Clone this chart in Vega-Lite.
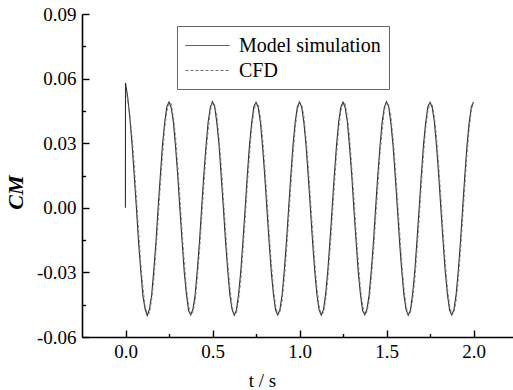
{
  "$schema": "https://vega.github.io/schema/vega-lite/v6.json",
  "width": 431,
  "height": 323,
  "autosize": {"type": "none"},
  "padding": {"left": 82, "top": 14, "right": 0, "bottom": 53},
  "background": "white",
  "config": {
    "view": {"stroke": null},
    "axis": {
      "labelFont": "Liberation Serif",
      "labelFontSize": 19,
      "labelColor": "#000",
      "titleFont": "Liberation Serif",
      "titleFontSize": 19,
      "titleFontWeight": "normal",
      "titleColor": "#000",
      "domainColor": "#000",
      "domainWidth": 1.6,
      "tickColor": "#000",
      "tickWidth": 1.4,
      "grid": false
    },
    "legend": {
      "labelFont": "Liberation Serif",
      "labelFontSize": 20,
      "labelColor": "#000"
    }
  },
  "data": {
    "values": [
      {"t":-0.0005,"m":0},
      {"t":0,"m":0.058},
      {"t":0.004,"c":0.0545},
      {"t":0.0125,"m":0.0515,"c":0.05},
      {"t":0.025,"m":0.0418,"c":0.0428},
      {"t":0.0375,"m":0.0296,"c":0.0331},
      {"t":0.05,"m":0.0152,"c":0.0203},
      {"t":0.0625,"m":0.0002,"c":0.0046},
      {"t":0.075,"m":-0.016,"c":-0.0101},
      {"t":0.0875,"m":-0.029,"c":-0.0255},
      {"t":0.1,"m":-0.0408,"c":-0.0366},
      {"t":0.1125,"m":-0.047,"c":-0.0459},
      {"t":0.125,"m":-0.05,"c":-0.0493},
      {"t":0.1375,"m":-0.0471,"c":-0.049},
      {"t":0.15,"m":-0.0408,"c":-0.0428},
      {"t":0.1625,"m":-0.029,"c":-0.0338},
      {"t":0.175,"m":-0.016,"c":-0.02},
      {"t":0.1875,"m":0.0001,"c":-0.0058},
      {"t":0.2,"m":0.0146,"c":0.0104},
      {"t":0.2125,"m":0.0292,"c":0.0241},
      {"t":0.225,"m":0.0394,"c":0.0369},
      {"t":0.2375,"m":0.047,"c":0.0445},
      {"t":0.25,"m":0.0491,"c":0.0488},
      {"t":0.2625,"m":0.0466,"c":0.0484},
      {"t":0.275,"m":0.04,"c":0.0422},
      {"t":0.2875,"m":0.0285,"c":0.0332},
      {"t":0.3,"m":0.0153,"c":0.0195},
      {"t":0.3125,"m":-0.0006,"c":0.0052},
      {"t":0.325,"m":-0.0152,"c":-0.0109},
      {"t":0.3375,"m":-0.0297,"c":-0.0248},
      {"t":0.35,"m":-0.04,"c":-0.0375},
      {"t":0.3625,"m":-0.0477,"c":-0.0452},
      {"t":0.375,"m":-0.0497,"c":-0.0498},
      {"t":0.3875,"m":-0.0471,"c":-0.0484},
      {"t":0.4,"m":-0.0406,"c":-0.0435},
      {"t":0.4125,"m":-0.0291,"c":-0.033},
      {"t":0.425,"m":-0.0159,"c":-0.0207},
      {"t":0.4375,"m":0,"c":-0.0051},
      {"t":0.45,"m":0.0153,"c":0.0097},
      {"t":0.4625,"m":0.0285,"c":0.0248},
      {"t":0.475,"m":0.0399,"c":0.0361},
      {"t":0.4875,"m":0.0466,"c":0.0452},
      {"t":0.5,"m":0.0493,"c":0.0491},
      {"t":0.5125,"m":0.047,"c":0.0478},
      {"t":0.525,"m":0.0394,"c":0.0429},
      {"t":0.5375,"m":0.0291,"c":0.0325},
      {"t":0.55,"m":0.0147,"c":0.0201},
      {"t":0.5625,"m":-0.0001,"c":0.0045},
      {"t":0.575,"m":-0.0158,"c":-0.0103},
      {"t":0.5875,"m":-0.0291,"c":-0.0254},
      {"t":0.6,"m":-0.0405,"c":-0.0368},
      {"t":0.6125,"m":-0.0472,"c":-0.0458},
      {"t":0.625,"m":-0.0499,"c":-0.0494},
      {"t":0.6375,"m":-0.0476,"c":-0.0489},
      {"t":0.65,"m":-0.04,"c":-0.0429},
      {"t":0.6625,"m":-0.0296,"c":-0.0337},
      {"t":0.675,"m":-0.0153,"c":-0.0201},
      {"t":0.6875,"m":-0.0005,"c":-0.0057},
      {"t":0.7,"m":0.0151,"c":0.0103},
      {"t":0.7125,"m":0.0291,"c":0.0242},
      {"t":0.725,"m":0.0395,"c":0.0368},
      {"t":0.7375,"m":0.0469,"c":0.0446},
      {"t":0.75,"m":0.049,"c":0.0489},
      {"t":0.7625,"m":0.0467,"c":0.0483},
      {"t":0.775,"m":0.0399,"c":0.0424},
      {"t":0.7875,"m":0.0286,"c":0.033},
      {"t":0.8,"m":0.0152,"c":0.0196},
      {"t":0.8125,"m":-0.0004,"c":0.005},
      {"t":0.825,"m":-0.0155,"c":-0.0108},
      {"t":0.8375,"m":-0.0295,"c":-0.0249},
      {"t":0.85,"m":-0.0401,"c":-0.0373},
      {"t":0.8625,"m":-0.0475,"c":-0.0453},
      {"t":0.875,"m":-0.0498,"c":-0.0497},
      {"t":0.8875,"m":-0.0473,"c":-0.0486},
      {"t":0.9,"m":-0.0404,"c":-0.0432},
      {"t":0.9125,"m":-0.0293,"c":-0.0332},
      {"t":0.925,"m":-0.0157,"c":-0.0205},
      {"t":0.9375,"m":-0.0002,"c":-0.0053},
      {"t":0.95,"m":0.0149,"c":0.0099},
      {"t":0.9625,"m":0.0289,"c":0.0246},
      {"t":0.975,"m":0.0396,"c":0.0364},
      {"t":0.9875,"m":0.0468,"c":0.045},
      {"t":1.0,"m":0.0492,"c":0.049},
      {"t":1.0125,"m":0.0468,"c":0.048},
      {"t":1.025,"m":0.0397,"c":0.0427},
      {"t":1.0375,"m":0.029,"c":0.0327},
      {"t":1.05,"m":0.0149,"c":0.0199},
      {"t":1.0625,"m":-0.0002,"c":0.0047},
      {"t":1.075,"m":-0.0157,"c":-0.0105},
      {"t":1.0875,"m":-0.0293,"c":-0.0252},
      {"t":1.1,"m":-0.0403,"c":-0.037},
      {"t":1.1125,"m":-0.0474,"c":-0.0456},
      {"t":1.125,"m":-0.0498,"c":-0.0495},
      {"t":1.1375,"m":-0.0474,"c":-0.0488},
      {"t":1.15,"m":-0.0402,"c":-0.0431},
      {"t":1.1625,"m":-0.0294,"c":-0.0335},
      {"t":1.175,"m":-0.0155,"c":-0.0203},
      {"t":1.1875,"m":-0.0003,"c":-0.0055},
      {"t":1.2,"m":0.0151,"c":0.0101},
      {"t":1.2125,"m":0.0288,"c":0.0244},
      {"t":1.225,"m":0.0398,"c":0.0366},
      {"t":1.2375,"m":0.0467,"c":0.0448},
      {"t":1.25,"m":0.0491,"c":0.0488},
      {"t":1.2625,"m":0.0466,"c":0.0484},
      {"t":1.275,"m":0.04,"c":0.0422},
      {"t":1.2875,"m":0.0285,"c":0.0332},
      {"t":1.3,"m":0.0153,"c":0.0195},
      {"t":1.3125,"m":-0.0006,"c":0.0052},
      {"t":1.325,"m":-0.0152,"c":-0.0109},
      {"t":1.3375,"m":-0.0297,"c":-0.0248},
      {"t":1.35,"m":-0.04,"c":-0.0375},
      {"t":1.3625,"m":-0.0477,"c":-0.0452},
      {"t":1.375,"m":-0.0497,"c":-0.0498},
      {"t":1.3875,"m":-0.0471,"c":-0.0484},
      {"t":1.4,"m":-0.0406,"c":-0.0435},
      {"t":1.4125,"m":-0.0291,"c":-0.033},
      {"t":1.425,"m":-0.0159,"c":-0.0207},
      {"t":1.4375,"m":0,"c":-0.0051},
      {"t":1.45,"m":0.0153,"c":0.0097},
      {"t":1.4625,"m":0.0285,"c":0.0248},
      {"t":1.475,"m":0.0399,"c":0.0361},
      {"t":1.4875,"m":0.0466,"c":0.0452},
      {"t":1.5,"m":0.0493,"c":0.0491},
      {"t":1.5125,"m":0.047,"c":0.0478},
      {"t":1.525,"m":0.0394,"c":0.0429},
      {"t":1.5375,"m":0.0291,"c":0.0325},
      {"t":1.55,"m":0.0147,"c":0.0201},
      {"t":1.5625,"m":-0.0001,"c":0.0045},
      {"t":1.575,"m":-0.0158,"c":-0.0103},
      {"t":1.5875,"m":-0.0291,"c":-0.0254},
      {"t":1.6,"m":-0.0405,"c":-0.0368},
      {"t":1.6125,"m":-0.0472,"c":-0.0458},
      {"t":1.625,"m":-0.0499,"c":-0.0494},
      {"t":1.6375,"m":-0.0476,"c":-0.0489},
      {"t":1.65,"m":-0.04,"c":-0.0429},
      {"t":1.6625,"m":-0.0296,"c":-0.0337},
      {"t":1.675,"m":-0.0153,"c":-0.0201},
      {"t":1.6875,"m":-0.0005,"c":-0.0057},
      {"t":1.7,"m":0.0151,"c":0.0103},
      {"t":1.7125,"m":0.0291,"c":0.0242},
      {"t":1.725,"m":0.0395,"c":0.0368},
      {"t":1.7375,"m":0.0469,"c":0.0446},
      {"t":1.75,"m":0.049,"c":0.0489},
      {"t":1.7625,"m":0.0467,"c":0.0483},
      {"t":1.775,"m":0.0399,"c":0.0424},
      {"t":1.7875,"m":0.0286,"c":0.033},
      {"t":1.8,"m":0.0152,"c":0.0196},
      {"t":1.8125,"m":-0.0004,"c":0.005},
      {"t":1.825,"m":-0.0155,"c":-0.0108},
      {"t":1.8375,"m":-0.0295,"c":-0.0249},
      {"t":1.85,"m":-0.0401,"c":-0.0373},
      {"t":1.8625,"m":-0.0475,"c":-0.0453},
      {"t":1.875,"m":-0.0498,"c":-0.0497},
      {"t":1.8875,"m":-0.0473,"c":-0.0486},
      {"t":1.9,"m":-0.0404,"c":-0.0432},
      {"t":1.9125,"m":-0.0293,"c":-0.0332},
      {"t":1.925,"m":-0.0157,"c":-0.0205},
      {"t":1.9375,"m":-0.0002,"c":-0.0053},
      {"t":1.95,"m":0.0149,"c":0.0099},
      {"t":1.9625,"m":0.0289,"c":0.0246},
      {"t":1.975,"m":0.0396,"c":0.0364},
      {"t":1.9875,"m":0.0468,"c":0.045},
      {"t":2.0,"m":0.0491,"c":0.0489}
    ]
  },
  "resolve": {"axis": {"x": "independent", "y": "independent"}},
  "layer": [
    {
      "mark": {"type": "line", "invalid": "filter", "strokeWidth": 1.1},
      "encoding": {
        "x": {
          "field": "t", "type": "quantitative",
          "scale": {"domain": [-0.25, 2.227], "nice": false, "zero": false},
          "axis": {
            "orient": "bottom",
            "values": [0, 0.5, 1, 1.5, 2],
            "format": ".1f",
            "labelFont": "Liberation Serif",
            "labelFontSize": 19,
            "labelColor": "#000",
            "tickSize": -7,
            "labelPadding": 12,
            "title": "t / s",
            "titleFont": "Liberation Serif",
            "titleFontSize": 19,
            "titleX": 180,
            "titleY": 43,
            "titleBaseline": "middle",
            "titleAnchor": null
          }
        },
        "y": {
          "field": "m", "type": "quantitative",
          "scale": {"domain": [-0.06, 0.09], "nice": false, "zero": false},
          "axis": {
            "orient": "left",
            "values": [-0.06, -0.03, 0, 0.03, 0.06, 0.09],
            "format": ".2f",
            "labelExpr": "replace(datum.label, '\u2212', '-')",
            "labelFont": "Liberation Serif",
            "labelFontSize": 19,
            "labelColor": "#000",
            "tickSize": -7,
            "labelPadding": 13,
            "title": "CM",
            "titleFont": "Liberation Serif",
            "titleFontStyle": "italic",
            "titleFontWeight": "bold",
            "titleFontSize": 22,
            "titleX": -67,
            "titleY": 178,
            "titleAngle": -90,
            "titleBaseline": "middle",
            "titleAlign": "center"
          }
        },
        "color": {
          "datum": "Model simulation",
          "scale": {"domain": ["Model simulation", "CFD"], "range": ["#2e2e2e", "#707070"]},
          "legend": {
            "orient": "none",
            "legendX": 95,
            "legendY": 12,
            "title": null,
            "symbolType": "M-1,0H3",
            "symbolSize": 484,
            "symbolStrokeWidth": 1,
            "rowPadding": 3,
            "labelOffset": 31,
            "labelLimit": 400,
            "labelFont": "Liberation Serif",
            "labelFontSize": 20,
            "padding": 8,
            "strokeColor": "#666666",
            "fillColor": "white"
          }
        },
        "strokeDash": {
          "datum": "Model simulation",
          "scale": {"domain": ["Model simulation", "CFD"], "range": [[1, 0], [3, 2]]},
          "legend": null
        }
      }
    },
    {
      "mark": {"type": "line", "invalid": "filter", "strokeWidth": 0.9},
      "encoding": {
        "x": {
          "field": "t", "type": "quantitative",
          "axis": {
            "orient": "bottom",
            "values": [0.25, 0.75, 1.25, 1.75],
            "labels": false,
            "domain": false,
            "tickSize": -3.5,
            "title": null
          }
        },
        "y": {
          "field": "c", "type": "quantitative",
          "axis": {
            "orient": "left",
            "values": [-0.045, -0.015, 0.015, 0.045, 0.075],
            "labels": false,
            "domain": false,
            "tickSize": -3.5,
            "title": null
          }
        },
        "color": {"datum": "CFD"},
        "strokeDash": {"datum": "CFD"}
      }
    }
  ]
}
